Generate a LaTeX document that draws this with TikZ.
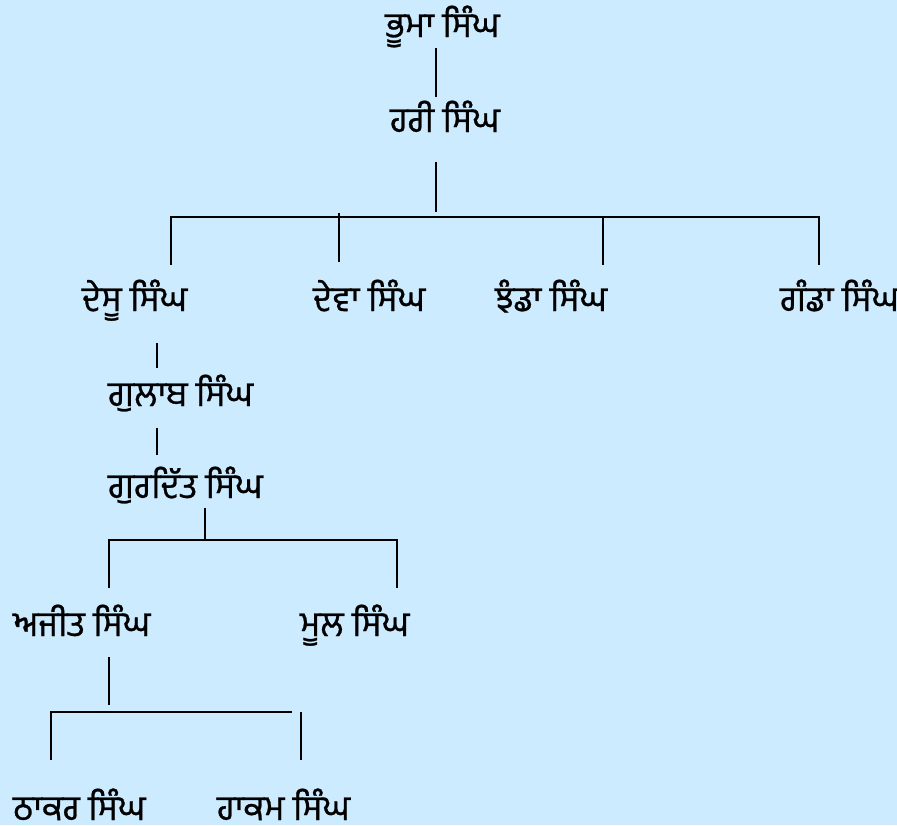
\documentclass[tikz,border=0pt]{standalone}
\usepackage{fontspec}
\newfontfamily\gurfont[Script=Gurmukhi,FakeBold=0.8]{Hind Jalandhar}
\definecolor{bgblue}{RGB}{204,235,255}
\begin{document}
\begin{tikzpicture}[x=1pt,y=-1pt,
  person/.style={anchor=base west,inner sep=0pt,font=\gurfont\fontsize{35}{38}\selectfont},
  link/.style={draw=black,line width=2pt}]
\fill[bgblue] (0,0) rectangle (897,825);
\useasboundingbox (0,0) rectangle (897,825);
% names
\node[person] (bhuma) at (385,37) {ਭੂਮਾ ਸਿੰਘ};
\node[person] (hari) at (390,132) {ਹਰੀ ਸਿੰਘ};
\node[person] (desu) at (82,311) {ਦੇਸੂ ਸਿੰਘ};
\node[person] (deva) at (313,311) {ਦੇਵਾ ਸਿੰਘ};
\node[person] (jhanda) at (495,311) {ਝੰਡਾ ਸਿੰਘ};
\node[person] (ganda) at (780,311) {ਗੰਡਾ ਸਿੰਘ};
\node[person] (gulab) at (108,406) {ਗੁਲਾਬ ਸਿੰਘ};
\node[person] (gurditt) at (108,498) {ਗੁਰਦਿੱਤ ਸਿੰਘ};
\node[person] (ajit) at (13,636) {ਅਜੀਤ ਸਿੰਘ};
\node[person] (mul) at (300,636) {ਮੂਲ ਸਿੰਘ};
\node[person] (thakar) at (13,820) {ਠਾਕਰ ਸਿੰਘ};
\node[person] (hakam) at (217,820) {ਹਾਕਮ ਸਿੰਘ};
% junction points
\coordinate (a1) at (436,48);  \coordinate (a2) at (436,97);
\coordinate (b1) at (436,162); \coordinate (b2) at (436,212);
\coordinate (bl) at (171,217); \coordinate (br) at (819,217);
\coordinate (c1) at (171,265); \coordinate (c2t) at (339,213); \coordinate (c2) at (339,262);
\coordinate (c3t) at (603,217); \coordinate (c3) at (603,265); \coordinate (c4) at (819,265);
\coordinate (d1) at (157,343); \coordinate (d2) at (157,368);
\coordinate (e1) at (157,428); \coordinate (e2) at (157,455);
\coordinate (f1) at (205,508); \coordinate (f2) at (205,540);
\coordinate (fl) at (109,540); \coordinate (fr) at (397,540);
\coordinate (g1) at (109,588); \coordinate (g2) at (397,588);
\coordinate (h1) at (109,657); \coordinate (h2) at (109,705);
\coordinate (hl) at (51,712); \coordinate (hr) at (292,712);
\coordinate (i1) at (51,760); \coordinate (i2t) at (301,712); \coordinate (i2) at (301,760);
% connectors
\draw[link] (a1) -- (a2);
\draw[link] (b1) -- (b2);
\draw[link] (c1) -- (bl) -- (br) -- (c4);
\draw[link] (c2t) -- (c2);
\draw[link] (c3t) -- (c3);
\draw[link] (d1) -- (d2);
\draw[link] (e1) -- (e2);
\draw[link] (f1) -- (f2);
\draw[link] (g1) -- (fl) -- (fr) -- (g2);
\draw[link] (h1) -- (h2);
\draw[link] (i1) -- (hl) -- (hr);
\draw[link] (i2t) -- (i2);
\end{tikzpicture}
\end{document}
